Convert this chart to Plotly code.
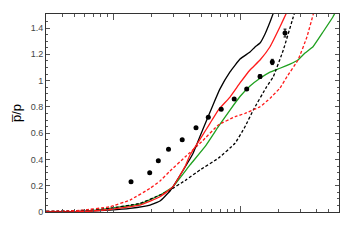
import plotly.graph_objects as go

# model curves (x on log scale, no tick labels in the original)
bs_x = [0.297, 0.55, 0.947, 1.361, 1.956, 2.345, 2.811, 3.558, 4.265, 5.113, 6.13, 6.958, 8.341, 10.0, 11.99, 13.13, 14.38, 15.74, 17.23, 18.19, 20.65]
bs_y = [0.0, 0.004, 0.015, 0.028, 0.053, 0.084, 0.16, 0.316, 0.445, 0.632, 0.815, 0.937, 1.066, 1.164, 1.218, 1.256, 1.286, 1.355, 1.446, 1.507, 1.62]

rs_x = [0.297, 0.55, 0.947, 1.632, 2.345, 2.968, 3.689, 4.04, 4.993, 5.804, 6.748, 8.341, 10.0, 11.99, 14.38, 17.23, 20.65, 23.02, 25.67]
rs_y = [0.0, 0.002, 0.019, 0.053, 0.116, 0.193, 0.345, 0.434, 0.573, 0.675, 0.776, 0.875, 0.982, 1.081, 1.157, 1.258, 1.41, 1.507, 1.61]

g_x = [0.297, 0.55, 0.947, 1.632, 2.345, 2.968, 4.04, 5.302, 6.748, 8.341, 10.0, 11.99, 14.38, 17.23, 20.65, 24.76, 28.62, 32.49, 37.57, 45.03, 54.0, 57.0]
g_y = [0.0, 0.003, 0.028, 0.061, 0.129, 0.193, 0.358, 0.497, 0.649, 0.776, 0.879, 0.959, 1.018, 1.065, 1.094, 1.126, 1.157, 1.21, 1.258, 1.37, 1.486, 1.53]

rd_x = [0.297, 0.55, 0.947, 1.361, 1.956, 2.345, 2.811, 3.689, 4.993, 6.748, 9.134, 10.95, 14.38, 17.23, 20.65, 23.45, 28.62, 33.7, 37.57, 39.67]
rd_y = [0.004, 0.012, 0.04, 0.091, 0.18, 0.236, 0.312, 0.418, 0.535, 0.662, 0.725, 0.751, 0.801, 0.865, 0.944, 1.03, 1.157, 1.334, 1.499, 1.58]

bd_x = [0.297, 0.55, 0.947, 1.632, 2.345, 2.811, 3.756, 4.842, 6.748, 9.134, 10.95, 12.72, 16.23, 18.29, 21.93, 26.29, 27.6]
bd_y = [0.006, 0.011, 0.028, 0.066, 0.129, 0.167, 0.244, 0.32, 0.409, 0.523, 0.649, 0.776, 0.954, 1.03, 1.233, 1.486, 1.55]

# data points
pt_x = [1.386, 1.945, 2.274, 2.735, 3.507, 4.503, 5.628, 7.112, 9.0, 11.29, 14.38, 17.96, 22.61]
pt_y = [0.231, 0.299, 0.39, 0.478, 0.549, 0.641, 0.721, 0.782, 0.86, 0.936, 1.031, 1.142, 1.362]
pt_err = [0.006, 0.006, 0.006, 0.006, 0.006, 0.007, 0.007, 0.008, 0.008, 0.01, 0.015, 0.02, 0.03]

y_ticks = [0, 0.2, 0.4, 0.6, 0.8, 1, 1.2, 1.4]
y_labels = ["0", "0.2", "0.4", "0.6", "0.8", "1", "1.2", "1.4"]
x_major = [1, 10]
x_minor = [0.3, 0.4, 0.5, 0.6, 0.7, 0.8, 0.9, 2, 3, 4, 5, 6, 7, 8, 9, 20, 30, 40, 50, 60]

fig = go.Figure()

curves = [
    (g_x, g_y, '#1fa01f', 'solid'),
    (bd_x, bd_y, 'black', '3px,2px'),
    (rd_x, rd_y, '#ff1a1a', '3px,2px'),
    (bs_x, bs_y, 'black', 'solid'),
    (rs_x, rs_y, '#ff1a1a', 'solid'),
]
for cx, cy, col, dash in curves:
    fig.add_trace(go.Scatter(x=cx, y=cy, mode='lines',
                             line=dict(color=col, width=1.3, dash=dash, shape='spline', smoothing=0.3),
                             hoverinfo='skip'))

fig.add_trace(go.Scatter(x=pt_x, y=pt_y, mode='markers',
                         marker=dict(color='black', size=5),
                         error_y=dict(type='data', array=pt_err, color='black', thickness=1, width=1.5)))

# page body has an 8px margin, so the figure is shrunk to fit the window
fig.update_layout(width=341, height=228,
                  margin=dict(l=38, r=10, t=6, b=24),
                  showlegend=False,
                  paper_bgcolor='white', plot_bgcolor='white',
                  font=dict(family='Liberation Sans, Arial', size=9, color='#333'))

fig.update_xaxes(type='log', range=[-0.5276, 1.7795],
                 showgrid=False, zeroline=False,
                 showline=True, linecolor='#333', linewidth=1, mirror='ticks',
                 ticks='inside', ticklen=6, tickcolor='#555',
                 tickmode='array', tickvals=x_major, showticklabels=False,
                 minor=dict(ticks='inside', ticklen=3, tickcolor='#555', tickmode='array', tickvals=x_minor))

fig.update_yaxes(range=[0, 1.507],
                 showgrid=False, zeroline=False,
                 showline=True, linecolor='#333', linewidth=1, mirror='ticks',
                 ticks='inside', ticklen=4, tickcolor='#555',
                 tickmode='array', tickvals=y_ticks, ticktext=y_labels,
                 tickfont=dict(size=9, color='#444'),
                 minor=dict(ticks='inside', ticklen=2, tickcolor='#555', dtick=0.05),
                 title=dict(text='p\u0305/p', font=dict(size=13, color='black'), standoff=6))

fig.write_html("out.html")
